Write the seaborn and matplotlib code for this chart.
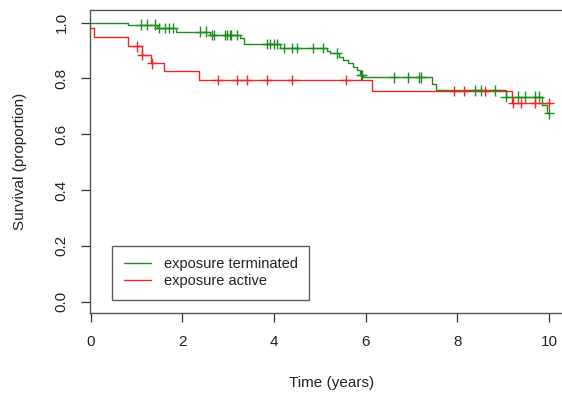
import numpy as np
import pandas as pd
import matplotlib
matplotlib.use("Agg")
import matplotlib.pyplot as plt
import seaborn as sns
from matplotlib.lines import Line2D

# ---- data ----
groups = ["exposure terminated", "exposure active"]

green_times = [0.0, 0.81, 1.44, 1.85, 2.60, 3.26, 3.35, 4.12, 5.16, 5.22, 5.42, 5.50,
               5.61, 5.72, 5.80, 5.88, 5.94, 7.44, 7.53, 9.05, 9.85, 9.96]
green_surv = [1.0, 0.993, 0.980, 0.968, 0.956, 0.944, 0.923, 0.910, 0.900, 0.890, 0.878, 0.866,
              0.854, 0.842, 0.829, 0.813, 0.804, 0.780, 0.757, 0.735, 0.705, 0.675]
green_censor = [1.10, 1.22, 1.40, 1.49, 1.61, 1.71, 1.80, 2.38, 2.52, 2.64, 2.69, 2.94, 2.98,
                3.03, 3.07, 3.19, 3.84, 3.91, 3.99, 4.07, 4.22, 4.40, 4.49, 4.85, 5.06, 5.37,
                5.89, 5.92, 6.61, 6.92, 7.17, 7.21, 8.39, 8.51, 8.82, 9.05, 9.32, 9.48, 9.70,
                9.77, 10.0]

red_times = [0.0, 0.08, 0.81, 1.11, 1.31, 1.60, 2.36, 6.13, 9.20]
red_surv = [0.981, 0.948, 0.915, 0.884, 0.854, 0.827, 0.795, 0.756, 0.711]
red_censor = [1.02, 1.13, 1.34, 2.77, 3.20, 3.40, 3.84, 4.40, 5.57, 7.93, 8.15, 8.59, 9.22,
              9.38, 9.70, 10.0]

colors = {"exposure terminated": "#1f8c1f", "exposure active": "#f02424"}

# ---- build tables ----
curves, marks = [], []
for g, t, s, c in [(groups[0], green_times, green_surv, green_censor),
                   (groups[1], red_times, red_surv, red_censor)]:
    t = np.asarray(t); s = np.asarray(s); c = np.asarray(c)
    tt = np.append(t, c.max())
    ss = np.append(s, s[-1])
    curves.append(pd.DataFrame({"time": tt, "surv": ss, "group": g}))
    idx = np.searchsorted(t, c, side="right") - 1
    marks.append(pd.DataFrame({"time": c, "surv": s[idx], "group": g}))
curve_df = pd.concat(curves, ignore_index=True)
mark_df = pd.concat(marks, ignore_index=True)

sns.set_style("white")
plt.rcParams["font.family"] = ["Liberation Sans", "DejaVu Sans"]

fig = plt.figure(figsize=(5.62, 3.96), dpi=100)
ax = fig.add_axes([90 / 562, 83 / 396, (573 - 90) / 562, (313 - 10) / 396])

sns.lineplot(data=curve_df, x="time", y="surv", hue="group", hue_order=groups,
             palette=colors, estimator=None, sort=False, drawstyle="steps-post",
             linewidth=1.0, legend=False, ax=ax)
sns.scatterplot(data=mark_df, x="time", y="surv", hue="group", hue_order=groups,
                palette=colors, marker="+", s=55, linewidth=1.0, legend=False, ax=ax,
                zorder=3)

ax.set_xlim(-0.015, 10.52)
ax.set_ylim(-0.0405, 1.0455)
ax.set_xticks([0, 2, 4, 6, 8, 10])
ax.set_xticklabels(["0", "2", "4", "6", "8", "10"])
ax.set_yticks([0.0, 0.2, 0.4, 0.6, 0.8, 1.0])
ax.set_yticklabels(["0.0", "0.2", "0.4", "0.6", "0.8", "1.0"], rotation=90, va="center")

for sp in ax.spines.values():
    sp.set_visible(True)
    sp.set_color("#555555")
    sp.set_linewidth(1.0)

ax.tick_params(axis="both", direction="out", length=6.5, width=0.9, color="#333333",
               labelsize=11, labelcolor="#222222")
ax.tick_params(axis="x", pad=9, bottom=True)
ax.tick_params(axis="y", pad=9, left=True)

ax.set_xlabel("Time (years)", fontsize=11, color="#222222")
ax.set_ylabel("Survival (proportion)", fontsize=11, color="#222222")
ax.xaxis.set_label_coords(0.5, -0.208)
ax.yaxis.set_label_coords(-0.13, 0.5)

handles = [Line2D([], [], color=colors[g], lw=1.0) for g in groups]
leg = ax.legend(handles, groups, loc="lower left", bbox_to_anchor=(0.0455, 0.043),
                borderaxespad=0, fontsize=10.5, frameon=True, fancybox=False,
                handlelength=1.9, handletextpad=0.85, labelspacing=0.2, borderpad=0.8)
leg.get_frame().set_edgecolor("#333333")
leg.get_frame().set_linewidth(1.0)
leg.get_frame().set_facecolor("white")
for t in leg.get_texts():
    t.set_color("#222222")

fig.savefig("out.png", dpi=100)
